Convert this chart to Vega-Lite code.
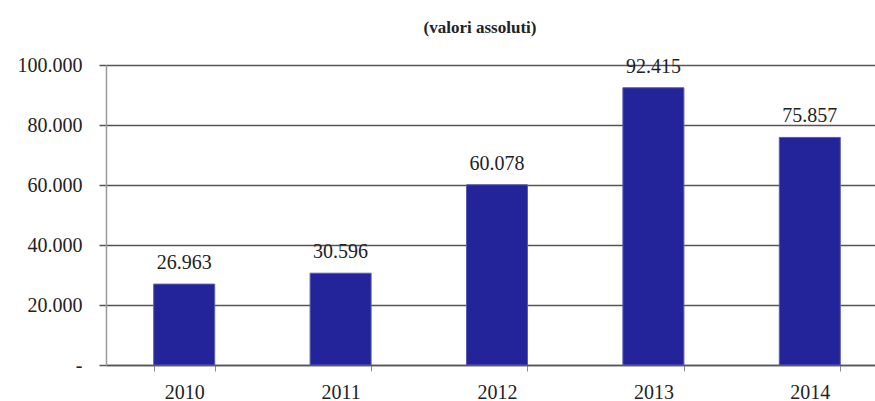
{
  "$schema": "https://vega.github.io/schema/vega-lite/v6.json",
  "width": 782,
  "height": 300,
  "autosize": "none",
  "padding": {"left": 106, "top": 65, "right": 0, "bottom": 36},
  "background": "white",
  "config": {
    "view": {"stroke": null},
    "font": "Liberation Serif",
    "locale": {"number": {"decimal": ",", "thousands": ".", "grouping": [3], "currency": ["€", ""]}}
  },
  "title": {
    "text": "(valori assoluti)",
    "font": "Liberation Serif",
    "fontSize": 17,
    "fontWeight": "bold",
    "color": "#222222",
    "anchor": "middle",
    "dx": -17,
    "offset": 18
  },
  "data": {"values": [
    {"anno": "2010", "valore": 26963},
    {"anno": "2011", "valore": 30596},
    {"anno": "2012", "valore": 60078},
    {"anno": "2013", "valore": 92415},
    {"anno": "2014", "valore": 75857}
  ]},
  "encoding": {
    "x": {
      "field": "anno", "type": "nominal",
      "scale": {"paddingInner": 0.61, "paddingOuter": 0.305},
      "axis": {
        "title": null, "labelAngle": 0, "labelFont": "Liberation Serif", "labelFontSize": 20,
        "labelColor": "#222222", "tickBand": "extent", "tickSize": 6, "tickColor": "#888888",
        "domainColor": "#555555", "domainWidth": 1.5, "labelPadding": 11
      }
    },
    "y": {
      "field": "valore", "type": "quantitative",
      "scale": {"domain": [0, 100000]},
      "axis": {
        "title": null, "values": [0, 20000, 40000, 60000, 80000, 100000],
        "format": ",.0f",
        "labelExpr": "datum.value == 0 ? '-' : datum.label",
        "labelFont": "Liberation Serif", "labelFontSize": 20, "labelColor": "#222222",
        "tickSize": 7, "tickColor": "#555555", "tickWidth": 1.5, "labelPadding": 17,
        "grid": true, "gridColor": "#555555", "gridWidth": 1.5,
        "domainColor": "#999999", "domainWidth": 1.5
      }
    }
  },
  "layer": [
    {"mark": {"type": "bar", "color": "#23239a", "stroke": "#5a5ab0", "strokeWidth": 1}},
    {
      "mark": {"type": "text", "baseline": "alphabetic", "dy": -15, "font": "Liberation Serif", "fontSize": 20, "color": "#222222"},
      "encoding": {"text": {"field": "valore", "type": "quantitative", "format": ",.0f"}}
    }
  ]
}
